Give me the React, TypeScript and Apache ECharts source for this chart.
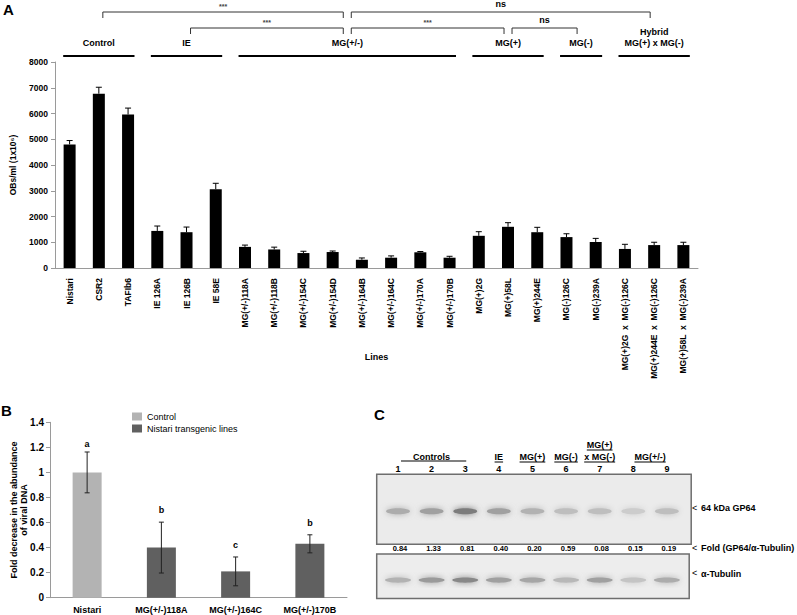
import React, { useEffect, useRef } from "react";
import * as echarts from "echarts";

const FONT = '"Liberation Sans", Arial, Helvetica, sans-serif';

// ---------- Panel A data ----------
const linesA = [
  "Nistari", "CSR2", "TAFIb6", "IE 126A", "IE 126B", "IE 58E",
  "MG(+/-)118A", "MG(+/-)118B", "MG(+/-)154C", "MG(+/-)154D", "MG(+/-)164B",
  "MG(+/-)164C", "MG(+/-)170A", "MG(+/-)170B", "MG(+)2G", "MG(+)58L",
  "MG(+)244E", "MG(-)126C", "MG(-)239A", "MG(+)2G  x  MG(-)126C",
  "MG(+)244E  x  MG(-)126C", "MG(+)58L  x  MG(-)239A",
];
const obsA = [4800, 6770, 5960, 1440, 1390, 3060, 820, 720, 580, 620, 320, 400, 610, 400, 1250, 1600, 1390, 1200, 1010, 740, 890, 890];
const obsErrA = [150, 250, 250, 190, 200, 230, 70, 90, 70, 40, 70, 70, 30, 55, 160, 160, 190, 130, 140, 180, 110, 110];
const yTicksA = { min: 0, max: 8000, interval: 1000 };

const groupsA = [
  { label: "Control", from: 0, to: 2 },
  { label: "IE", from: 3, to: 5 },
  { label: "MG(+/-)", from: 6, to: 13 },
  { label: "MG(+)", from: 14, to: 16 },
  { label: "MG(-)", from: 17, to: 18 },
  { label: "Hybrid\nMG(+) x MG(-)", from: 19, to: 21 },
];
const bracketsA = [
  { a: 0, b: 2, level: 0, label: "***" },
  { a: 1, b: 2, level: 1, label: "***" },
  { a: 2, b: 5, level: 0, label: "ns" },
  { a: 2, b: 3, level: 1, label: "***" },
  { a: 3, b: 4, level: 1, label: "ns" },
];

// ---------- Panel B data ----------
const linesB = ["Nistari", "MG(+/-)118A", "MG(+/-)164C", "MG(+/-)170B"];
const typeB = ["Control", "Nistari transgenic lines", "Nistari transgenic lines", "Nistari transgenic lines"];
const valuesB = [1.0, 0.40, 0.21, 0.43];
const errB = [0.163, 0.203, 0.115, 0.072];
const lettersB = ["a", "b", "c", "b"];

// ---------- Panel C data ----------
const lanesC = ["1", "2", "3", "4", "5", "6", "7", "8", "9"];
const foldC = [0.84, 1.33, 0.81, 0.40, 0.20, 0.59, 0.08, 0.15, 0.19];
const gp64BandC = [0.45, 0.55, 0.85, 0.55, 0.4, 0.3, 0.3, 0.18, 0.3];
const tubulinBandC = [0.4, 0.6, 0.75, 0.55, 0.5, 0.35, 0.55, 0.25, 0.45];
const laneGroupsC = [
  { label: "Controls", from: 0, to: 2, bar: true },
  { label: "IE", from: 3, to: 3 },
  { label: "MG(+)", from: 4, to: 4 },
  { label: "MG(-)", from: 5, to: 5 },
  { label: "MG(+)\nx MG(-)", from: 6, to: 6 },
  { label: "MG(+/-)", from: 7, to: 8 },
];

let measureCtx: CanvasRenderingContext2D | null = null;
function textWidth(t: string, font: string) {
  if (!measureCtx) measureCtx = document.createElement("canvas").getContext("2d");
  if (!measureCtx) return t.length * 5;
  measureCtx.font = font;
  return measureCtx.measureText(t).width;
}

function txt(text: string, x: number, y: number, font: string, align = "center", fill = "#000") {
  return {
    type: "text",
    style: { text, x, y, font, fill, align, verticalAlign: "middle", textAlign: align, textVerticalAlign: "middle" },
  };
}

export default function App() {
  const ref = useRef<HTMLDivElement>(null);
  useEffect(() => {
    if (!ref.current) return;
    const chart = echarts.init(ref.current, null, { renderer: "svg" });
    const axisGray = "#9a9a9a";
    const boldF = (s: number) => `bold ${s}px ${FONT}`;

    const annotA = (params: any, api: any) => {
      const w = api.size([1, 0])[0];
      const c0 = api.coord([0, 0])[0];
      const px = (u: number) => c0 - w / 2 + u * w;
      const children: any[] = [];
      const centers: number[] = [];
      groupsA.forEach((g) => {
        const x1 = px(g.from) + 0.28 * w;
        const x2 = px(g.to + 1) - 0.28 * w;
        centers.push((x1 + x2) / 2);
        children.push({ type: "line", shape: { x1, y1: 56, x2, y2: 56 }, style: { stroke: "#000", lineWidth: 2 } });
        const ls = g.label.split("\n");
        ls.forEach((t, k) => children.push(txt(t, (x1 + x2) / 2, 43 - (ls.length - 1 - k) * 11, boldF(9))));
      });
      bracketsA.forEach((b) => {
        const x1 = centers[b.a] + 4;
        const x2 = centers[b.b] - 4;
        const yt = b.level === 0 ? 12 : 28;
        children.push({
          type: "polyline",
          shape: { points: [[x1, yt + 6], [x1, yt], [x2, yt], [x2, yt + 6]] },
          style: { stroke: "#333", lineWidth: 1, fill: null },
        });
        if (b.label === "ns") children.push(txt("ns", (x1 + x2) / 2, yt - 8, boldF(9)));
        else children.push(txt(b.label, (x1 + x2) / 2, yt - 6, `bold 7px ${FONT}`, "center", "#444"));
      });
      return { type: "group", children };
    };

    const errA = (params: any, api: any) => {
      const i = api.value(0), v = api.value(1), e = api.value(2);
      const base = api.coord([i, v]);
      const top = api.coord([i, v + e]);
      return {
        type: "group",
        children: [
          { type: "line", shape: { x1: base[0], y1: base[1], x2: top[0], y2: top[1] }, style: { stroke: "#000", lineWidth: 1 } },
          { type: "line", shape: { x1: top[0] - 3, y1: top[1], x2: top[0] + 3, y2: top[1] }, style: { stroke: "#000", lineWidth: 1 } },
        ],
      };
    };

    const errB2 = (params: any, api: any) => {
      const i = api.value(0), v = api.value(1), e = api.value(2);
      const hi = api.coord([i, v + e]);
      const lo = api.coord([i, v - e]);
      const s = { stroke: "#222", lineWidth: 1 };
      return {
        type: "group",
        children: [
          { type: "line", shape: { x1: hi[0], y1: hi[1], x2: lo[0], y2: lo[1] }, style: s },
          { type: "line", shape: { x1: hi[0] - 2.5, y1: hi[1], x2: hi[0] + 2.5, y2: hi[1] }, style: s },
          { type: "line", shape: { x1: lo[0] - 2.5, y1: lo[1], x2: lo[0] + 2.5, y2: lo[1] }, style: s },
          txt(lettersB[params.dataIndex], hi[0], hi[1] - (params.dataIndex === 0 ? 8 : 12), boldF(9)),
        ],
      };
    };

    const blotC = (params: any, api: any) => {
      const children: any[] = [];
      lanesC.forEach((_, i) => {
        const g = api.coord([i, 0.704]);
        const gv = Math.round(226 - gp64BandC[i] * 120);
        const gc = `rgb(${gv},${gv},${gv})`;
        children.push({
          type: "ellipse",
          shape: { cx: g[0], cy: g[1], rx: 12, ry: 3 },
          style: { fill: gc, shadowBlur: 6, shadowColor: gc },
        });
        const t = api.coord([i, 0.152]);
        const tv = Math.round(226 - tubulinBandC[i] * 120);
        const tc = `rgb(${tv},${tv},${tv})`;
        children.push({
          type: "ellipse",
          shape: { cx: t[0], cy: t[1], rx: 13, ry: 2.6 },
          style: { fill: tc, shadowBlur: 6, shadowColor: tc },
        });
        const f = api.coord([i, 0.406]);
        children.push(txt(foldC[i].toFixed(2), f[0] + 2, f[1], boldF(7.5)));
      });
      laneGroupsC.forEach((g) => {
        const a = api.coord([g.from, 0])[0];
        const b = api.coord([g.to, 0])[0];
        const cx = (a + b) / 2;
        const ls = g.label.split("\n");
        ls.forEach((t, k) => {
          const y = 457 - (ls.length - 1 - k) * 12;
          children.push(txt(t, cx, y, boldF(9)));
          if (!g.bar) {
            const w = textWidth(t, boldF(9));
            children.push({ type: "line", shape: { x1: cx - w / 2, y1: y + 5, x2: cx + w / 2, y2: y + 5 }, style: { stroke: "#000", lineWidth: 1 } });
          }
        });
        if (g.bar) {
          children.push({ type: "line", shape: { x1: a + 3, y1: 461, x2: b + 1, y2: 461 }, style: { stroke: "#808080", lineWidth: 2 } });
        }
      });
      return { type: "group", children };
    };

    const option: any = {
      animation: false,
      textStyle: { fontFamily: FONT },
      grid: [
        { left: 52, top: 62, width: 646, height: 206 },
        { left: 50, top: 422.3, width: 297, height: 175.4 },
        { left: 381.2, top: 474.3, width: 302.5, height: 124.7 },
      ],
      legend: {
        data: ["Control", "Nistari transgenic lines"],
        orient: "vertical",
        left: 127,
        top: 407,
        itemWidth: 10,
        itemHeight: 8,
        itemGap: 3,
        icon: "rect",
        textStyle: { fontSize: 9, color: "#000", fontFamily: FONT },
      },
      xAxis: [
        {
          type: "category", gridIndex: 0, data: linesA,
          axisLine: { lineStyle: { color: axisGray } },
          axisTick: { length: 4, lineStyle: { color: axisGray } },
          axisLabel: { interval: 0, rotate: 90, fontSize: 8.5, fontWeight: "bold", color: "#000", margin: 10, fontFamily: FONT },
          name: "Lines", nameLocation: "middle", nameGap: 84, nameMoveOverlap: false,
          nameTextStyle: { fontWeight: "bold", fontSize: 9, color: "#000", fontFamily: FONT },
        },
        {
          type: "category", gridIndex: 1, data: linesB,
          axisLine: { lineStyle: { color: axisGray } },
          axisTick: { length: 4, lineStyle: { color: axisGray } },
          axisLabel: { interval: 0, fontSize: 9, fontWeight: "bold", color: "#000", margin: 8, fontFamily: FONT },
        },
        {
          type: "category", gridIndex: 2, data: lanesC, position: "top",
          axisLine: { show: false }, axisTick: { show: false },
          axisLabel: { fontSize: 9, fontWeight: "bold", color: "#000", margin: 1, fontFamily: FONT },
        },
      ],
      yAxis: [
        {
          type: "value", gridIndex: 0, ...yTicksA,
          splitLine: { show: false },
          axisLine: { show: true, lineStyle: { color: axisGray } },
          axisTick: { show: true, length: 4, lineStyle: { color: axisGray } },
          axisLabel: { fontSize: 8.5, fontWeight: "bold", color: "#000", margin: 7, fontFamily: FONT, formatter: (v: number) => String(v) },
          name: "OBs/ml (1x10\u2076)", nameLocation: "middle", nameGap: 38, nameMoveOverlap: false,
          nameTextStyle: { fontWeight: "bold", fontSize: 8.5, color: "#000", fontFamily: FONT },
        },
        {
          type: "value", gridIndex: 1, min: 0, max: 1.4, interval: 0.2,
          splitLine: { show: false },
          axisLine: { show: true, lineStyle: { color: axisGray } },
          axisTick: { show: true, length: 4, lineStyle: { color: axisGray } },
          axisLabel: { fontSize: 10, fontWeight: "bold", color: "#000", margin: 6, fontFamily: FONT },
          name: "Fold decrease in the abundance\nof viral DNA", nameLocation: "middle", nameGap: 21, nameMoveOverlap: false,
          nameTextStyle: { fontWeight: "bold", fontSize: 9, color: "#000", fontFamily: FONT, lineHeight: 10 },
        },
        { type: "value", gridIndex: 2, min: 0, max: 1, show: false },
      ],
      series: [
        { type: "bar", xAxisIndex: 0, yAxisIndex: 0, data: obsA, barWidth: 12, itemStyle: { color: "#000" }, z: 2 },
        {
          type: "custom", xAxisIndex: 0, yAxisIndex: 0, z: 3,
          data: obsA.map((v, i) => [i, v, obsErrA[i]]), encode: { x: 0, y: 1 }, renderItem: errA,
        },
        { type: "custom", xAxisIndex: 0, yAxisIndex: 0, z: 3, data: [[0, 0]], encode: { x: 0, y: 1 }, renderItem: annotA },
        {
          type: "bar", name: "Control", xAxisIndex: 1, yAxisIndex: 1, barWidth: 29, barGap: "-100%",
          data: valuesB.map((v, i) => (typeB[i] === "Control" ? v : "-")), itemStyle: { color: "#b3b3b3" },
        },
        {
          type: "bar", name: "Nistari transgenic lines", xAxisIndex: 1, yAxisIndex: 1, barWidth: 29, barGap: "-100%",
          data: valuesB.map((v, i) => (typeB[i] !== "Control" ? v : "-")), itemStyle: { color: "#606060" },
        },
        {
          type: "custom", xAxisIndex: 1, yAxisIndex: 1, z: 3,
          data: valuesB.map((v, i) => [i, v, errB[i]]), encode: { x: 0, y: 1 }, renderItem: errB2,
        },
        { type: "custom", xAxisIndex: 2, yAxisIndex: 2, z: 3, data: [[0, 0]], encode: { x: 0, y: 1 }, renderItem: blotC },
      ],
      graphic: [
        { type: "text", x: 3, y: 2, style: { text: "A", font: boldF(15), fill: "#000" } },
        { type: "text", x: 1, y: 403, style: { text: "B", font: boldF(15), fill: "#000" } },
        { type: "text", x: 374, y: 407, style: { text: "C", font: boldF(15), fill: "#000" } },
        {
          type: "rect", z: 0, shape: { x: 376.7, y: 474.3, width: 314.5, height: 70 },
          style: { fill: "#ebebeb", stroke: "#6e6e6e", lineWidth: 1.5 },
        },
        {
          type: "rect", z: 0, shape: { x: 376.7, y: 554, width: 312.5, height: 44.5 },
          style: { fill: "#ededed", stroke: "#6e6e6e", lineWidth: 1.5 },
        },
        { type: "text", x: 692, y: 503, style: { text: "<", font: `9px ${FONT}`, fill: "#000" } },
        { type: "text", x: 701, y: 503.5, style: { text: "64 kDa GP64", font: boldF(9), fill: "#000" } },
        { type: "text", x: 692, y: 543, style: { text: "<", font: `9px ${FONT}`, fill: "#000" } },
        { type: "text", x: 701, y: 543.5, style: { text: "Fold (GP64/\u03b1-Tubulin)", font: boldF(9), fill: "#000" } },
        { type: "text", x: 692, y: 568.5, style: { text: "<", font: `9px ${FONT}`, fill: "#000" } },
        { type: "text", x: 701, y: 569, style: { text: "\u03b1-Tubulin", font: boldF(9), fill: "#000" } },
      ],
    };
    chart.setOption(option);
    return () => chart.dispose();
  }, []);
  return <div ref={ref} style={{ position: "absolute", left: 0, top: 0, width: 797, height: 615, background: "#fff" }} />;
}
